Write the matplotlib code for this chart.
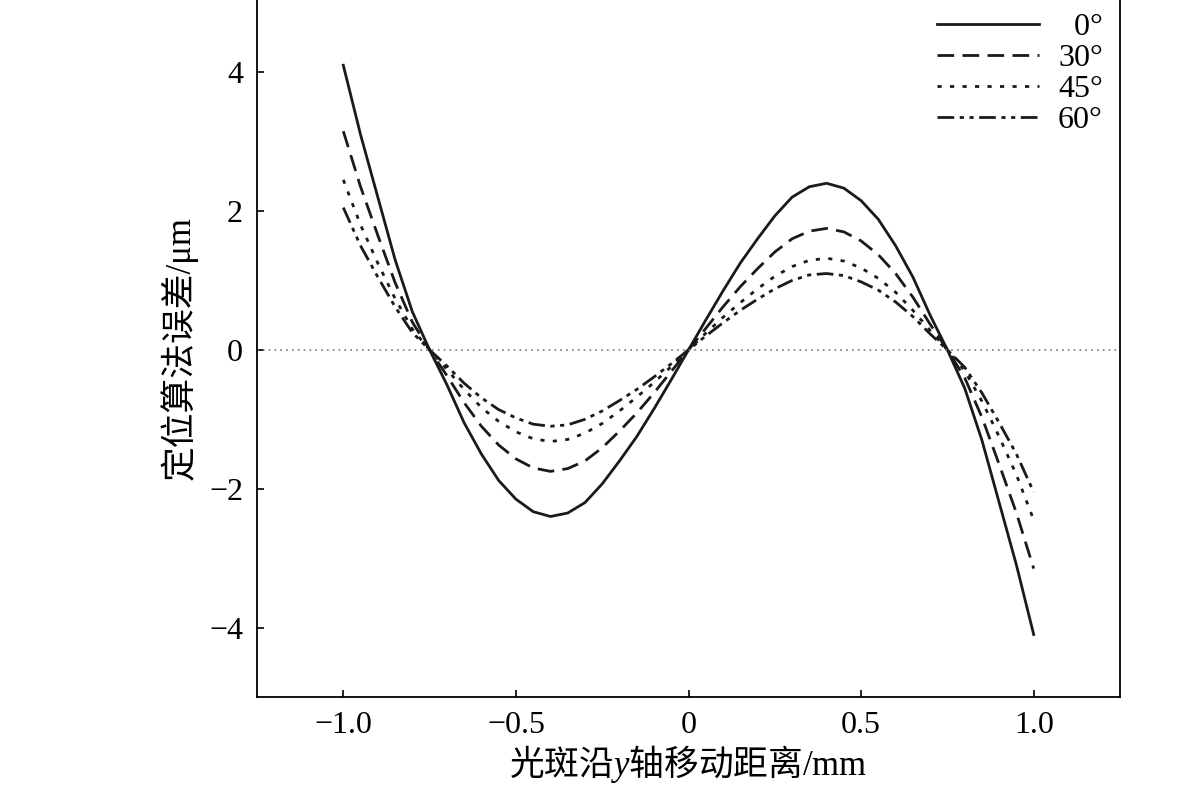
import numpy as np
import matplotlib.pyplot as plt

plt.rcParams['font.family'] = ['Liberation Serif', 'Noto Sans CJK SC']
plt.rcParams['mathtext.fontset'] = 'custom'
plt.rcParams['mathtext.rm'] = 'Noto Sans CJK SC'
plt.rcParams['mathtext.it'] = 'Liberation Serif:italic'

# 光斑位置 (mm)，负半轴
x_neg = [-1.0, -0.95, -0.9, -0.85, -0.8, -0.75, -0.7, -0.65, -0.6, -0.55, -0.5, -0.45,
         -0.4, -0.35, -0.3, -0.25, -0.2, -0.15, -0.1, -0.05, 0.0]
# 各角度下的定位误差 (um)，正半轴为其反对称
err_0 = [4.1, 3.1, 2.2, 1.3, 0.55, 0.0, -0.5, -1.05, -1.5, -1.88, -2.15, -2.33,
         -2.4, -2.35, -2.2, -1.93, -1.6, -1.25, -0.85, -0.43, 0.0]
err_30 = [3.15, 2.35, 1.65, 0.97, 0.4, 0.0, -0.37, -0.76, -1.1, -1.37, -1.57, -1.7,
          -1.75, -1.71, -1.6, -1.41, -1.17, -0.91, -0.62, -0.31, 0.0]
err_45 = [2.45, 1.8, 1.25, 0.74, 0.3, 0.0, -0.28, -0.57, -0.83, -1.03, -1.18, -1.28,
          -1.32, -1.29, -1.2, -1.06, -0.88, -0.68, -0.47, -0.24, 0.0]
err_60 = [2.05, 1.5, 1.05, 0.62, 0.25, 0.0, -0.23, -0.48, -0.69, -0.86, -0.98, -1.07,
          -1.1, -1.08, -1.0, -0.88, -0.73, -0.57, -0.39, -0.2, 0.0]

labels = ['  0°', '30°', '45°', '60°']
styles = ['-', (0, (6, 3)), (0, (1.5, 3)), (0, (6, 2, 1.5, 2, 1.5, 2))]


def full(vals):
    v = np.array(vals)
    return np.concatenate([v, -v[-2::-1]])


xs = np.concatenate([np.array(x_neg), -np.array(x_neg)[-2::-1]])

fig = plt.figure(figsize=(11.81, 8.08), dpi=100)
ax = fig.add_axes([257 / 1181, 111 / 808, 863 / 1181, 697 / 808])

for vals, lab, ls in zip([err_0, err_30, err_45, err_60], labels, styles):
    ax.plot(xs, full(vals), color='#1a1a1a', lw=2, linestyle=ls, label=lab)

ax.axhline(0, color='#777777', lw=1.2, linestyle=(0, (1, 2.5)))

ax.set_xlim(-1.25, 1.25)
ax.set_ylim(-5, 5.04)
ax.set_xticks([-1, -0.5, 0, 0.5, 1])
ax.set_xticklabels(['−1.0', '−0.5', '0', '0.5', '1.0'])
ax.set_yticks([-4, -2, 0, 2, 4])
ax.set_yticklabels(['−4', '−2', '0', '2', '4'])
ax.tick_params(direction='in', labelsize=23, length=5, width=1.2, pad=10)
ax.spines['top'].set_visible(False)
for s in ['left', 'right', 'bottom']:
    ax.spines[s].set_linewidth(1.3)

ax.set_xlabel(r'$\mathrm{光斑沿}\mathit{y}\mathrm{轴移动距离}$/mm', fontsize=25, labelpad=2)
ax.set_ylabel('定位算法误差/μm', fontsize=25, labelpad=8)

ax.legend(loc='upper right', frameon=False, fontsize=23, handlelength=3.2,
          handletextpad=0.6, borderaxespad=0.0, labelspacing=0.05,
          bbox_to_anchor=(0.995, 1.0))

fig.savefig('out.png', dpi=100)
